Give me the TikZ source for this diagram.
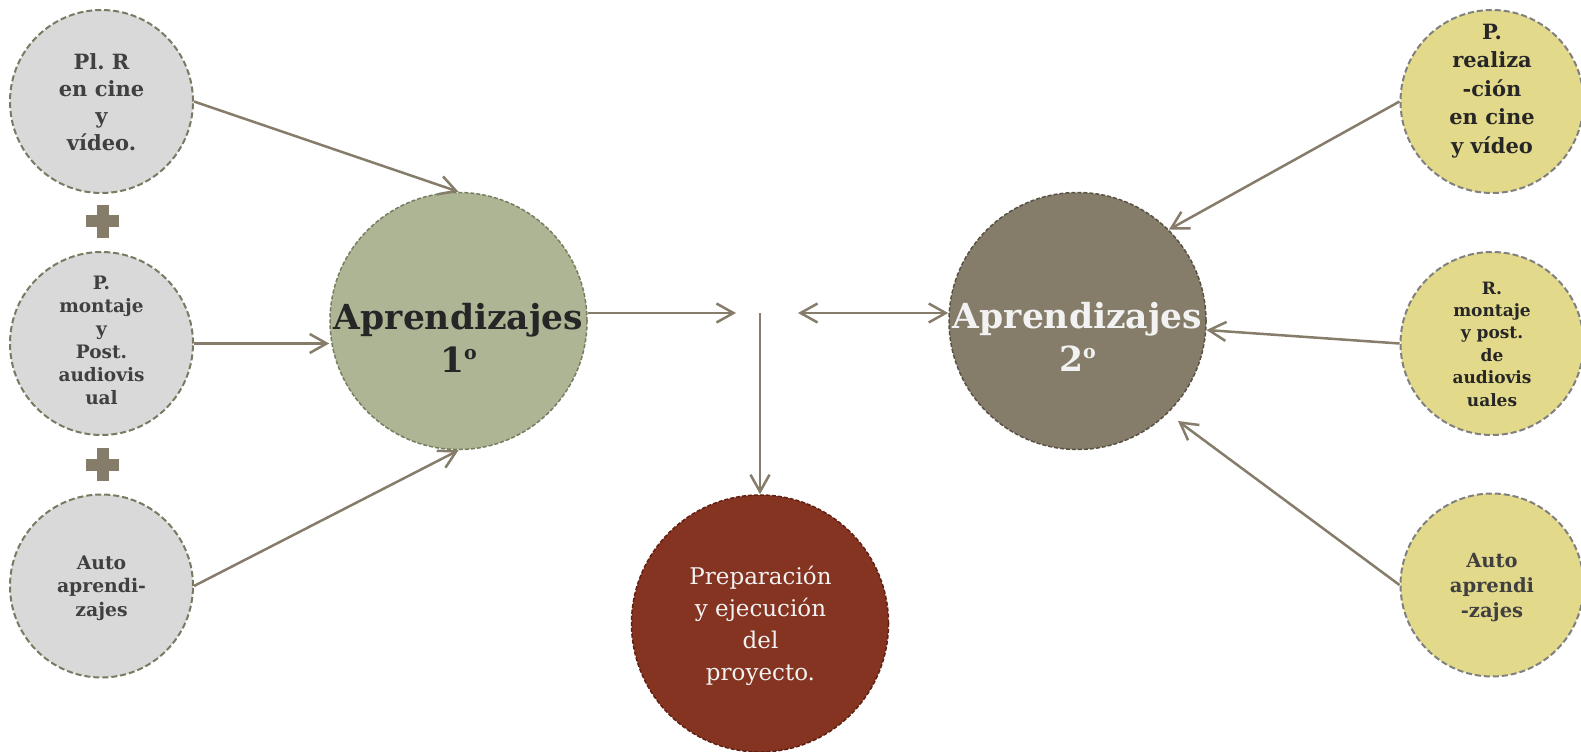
\documentclass[tikz,border=0pt]{standalone}
\usepackage{fontspec}
\setmainfont{DejaVu Serif}
\frenchspacing
\usetikzlibrary{arrows.meta,calc}
\definecolor{grayfill}{RGB}{217,217,217}
\definecolor{grayline}{RGB}{122,122,98}
\definecolor{graytext}{RGB}{64,64,64}
\definecolor{greenfill}{RGB}{173,181,149}
\definecolor{greenline}{RGB}{118,126,96}
\definecolor{brownfill}{RGB}{133,125,106}
\definecolor{brownline}{RGB}{88,82,68}
\definecolor{redfill}{RGB}{133,52,34}
\definecolor{redline}{RGB}{95,32,18}
\definecolor{yelfill}{RGB}{227,217,139}
\definecolor{yelline}{RGB}{128,128,128}
\definecolor{arrowc}{RGB}{133,125,106}
\definecolor{darktext}{RGB}{38,38,38}
\definecolor{lighttext}{RGB}{242,242,242}
\newcommand{\ordo}{\raisebox{13bp}{\fontsize{19bp}{19bp}\selectfont o}}
\begin{document}
\begin{tikzpicture}[x=1bp,y=-1bp,
  smallc/.style={circle,minimum size=183bp,inner sep=0pt,line width=2bp,dash pattern=on 6bp off 3bp},
  graycirc/.style={smallc,fill=grayfill,draw=grayline},
  yelcirc/.style={smallc,fill=yelfill,draw=yelline},
  bigc/.style={circle,minimum size=257bp,inner sep=0pt,line width=1.5bp,dash pattern=on 4bp off 2bp},
  conn/.style={draw=arrowc,line width=2.5bp,-{Straight Barb[length=17bp,width=19bp]}},
  txt/.style={align=center,inner sep=0pt},
  plussign/.style={fill=arrowc}]
\useasboundingbox (0,0) rectangle (1581,752);

% circles
\node[graycirc] (g1) at (101.5,101.5) {};
\node[graycirc] (g2) at (101.5,343.5) {};
\node[graycirc] (g3) at (101.5,586) {};
\node[yelcirc] (y1) at (1492,101.5) {};
\node[yelcirc] (y2) at (1492,343.5) {};
\node[yelcirc] (y3) at (1492,585) {};
\node[bigc,fill=greenfill,draw=greenline] (green) at (458.5,321) {};
\node[bigc,fill=brownfill,draw=brownline] (brown) at (1077.5,321) {};
\node[bigc,fill=redfill,draw=redline] (red) at (760,623.5) {};

% plus signs
\fill[plussign] (86,215) rectangle (119,227);
\fill[plussign] (97,204.5) rectangle (108.5,237.5);
\fill[plussign] (86,458.5) rectangle (119,470.5);
\fill[plussign] (97,448) rectangle (108.5,481);

% texts
\node[txt,text=graytext,font=\fontsize{21bp}{27bp}\selectfont\bfseries] (t1) at (101.5,102.5) {Pl. R\\en cine\\y\\vídeo.};
\node[txt,text=graytext,font=\fontsize{18.5bp}{23bp}\selectfont\bfseries] (t2) at (101.5,340) {P.\\montaje\\y\\Post.\\audiovis\\ual};
\node[txt,text=graytext,font=\fontsize{18.8bp}{23.5bp}\selectfont\bfseries] (t3) at (101.5,588) {Auto\\aprendi-\\zajes};
\node[txt,text=darktext,font=\fontsize{21bp}{28.5bp}\selectfont\bfseries] (ty1) at (1492,90.7) {P.\\realiza\\-ción\\en cine\\y vídeo};
\node[txt,text=darktext,font=\fontsize{17bp}{22.4bp}\selectfont\bfseries] (ty2) at (1492,344) {R.\\montaje\\y post.\\de\\audiovis\\uales};
\node[txt,text=graytext,font=\fontsize{19.5bp}{25bp}\selectfont\bfseries] (ty3) at (1492,588) {Auto\\aprendi\\-zajes};
\node[txt,text=lighttext,font=\fontsize{23bp}{32bp}\selectfont] (tred) at (760.5,626) {Preparación\\y ejecución\\del\\proyecto.};
\node[txt,text=darktext,font=\fontsize{34.5bp}{43bp}\selectfont\bfseries] (tg) at (458.5,337.7) {Aprendizajes\\1\ordo};
\node[txt,text=lighttext,font=\fontsize{34.5bp}{43bp}\selectfont\bfseries] (tb) at (1077.5,337) {Aprendizajes\\2\ordo};

% junction coordinates
\coordinate (J) at (760,313);
\coordinate (A) at (736,313);
\coordinate (B) at (798,313);
\coordinate (C) at (1178,421);

% connectors
\draw[conn] (g1.east) -- (green.north);
\draw[conn] (g2.east) -- (g2.east -| green.west);
\draw[conn] (g3.east) -- (green.south);
\draw[conn] (green.east |- J) -- (A);
\draw[conn] (J) -- (red.north);
\draw[conn,{Straight Barb[length=17bp,width=19bp]}-{Straight Barb[length=17bp,width=19bp]}] (B) -- (B -| brown.west);
\draw[conn] (y1.west) -- (brown.north east);
\draw[conn] (y2.west) -- (brown);
\draw[conn] (y3.west) -- (C);
\end{tikzpicture}
\end{document}
